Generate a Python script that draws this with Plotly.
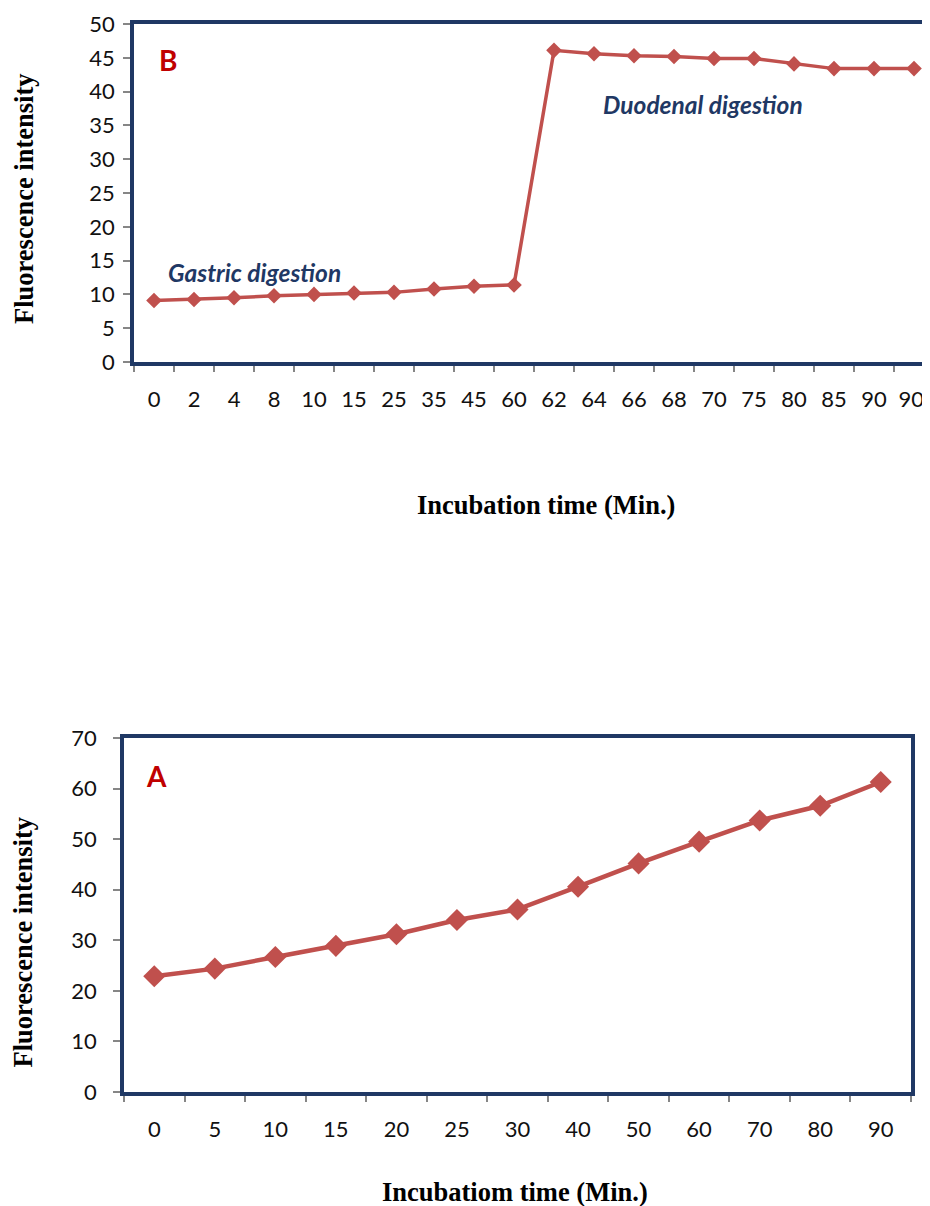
import plotly.graph_objects as go

# ---- Data: panel B (gastric + duodenal digestion) ----
time_labels_B = ["0", "2", "4", "8", "10", "15", "25", "35", "45", "60",
                 "62", "64", "66", "68", "70", "75", "80", "85", "90", "90"]
fluor_B = [9.1, 9.25, 9.5, 9.8, 10.0, 10.2, 10.3, 10.8, 11.2, 11.4,
           46.1, 45.6, 45.3, 45.2, 44.9, 44.9, 44.1, 43.4, 43.4, 43.4]

# ---- Data: panel A ----
time_labels_A = ["0", "5", "10", "15", "20", "25", "30", "40", "50", "60", "70", "80", "90"]
fluor_A = [22.9, 24.4, 26.7, 28.9, 31.2, 34.0, 36.1, 40.6, 45.2, 49.5, 53.7, 56.6, 61.3]

# The page body has an 8px default margin; size the figure to the visible area.
OFF = 8
W, H = 930 - OFF, 1206 - OFF
NAVY = "#1F3864"
RED_LINE = "#C0504D"
GRAY = "#868686"
TICK_FONT = dict(family="Lato, Carlito, Calibri, sans-serif", size=22, color="#111111")
TITLE_FONT = dict(family="Liberation Serif, Times New Roman, serif", size=26.5, color="#000000")


def unique_cats(labels):
    seen = {}
    out = []
    for lab in labels:
        k = seen.get(lab, 0)
        out.append(lab + " " * k)
        seen[lab] = k + 1
    return out


cats_B = unique_cats(time_labels_B)
cats_A = unique_cats(time_labels_A)

fig = go.Figure()
fig.add_trace(go.Scatter(
    x=cats_B, y=fluor_B, mode="lines+markers", xaxis="x", yaxis="y",
    line=dict(color=RED_LINE, width=3.5),
    marker=dict(symbol="diamond", size=12, color=RED_LINE),
    showlegend=False, cliponaxis=False,
))
fig.add_trace(go.Scatter(
    x=cats_A, y=fluor_A, mode="lines+markers", xaxis="x2", yaxis="y2",
    line=dict(color=RED_LINE, width=4.5),
    marker=dict(symbol="diamond", size=17, color=RED_LINE),
    showlegend=False, cliponaxis=False,
))


def px_x(p):
    return (p - OFF) / W


def px_y(p):
    return 1 - (p - OFF) / H


common_x = dict(type="category", showgrid=False, zeroline=False, showline=True,
                linecolor=NAVY, ticks="outside", tickcolor=GRAY, tickwidth=1.5,
                ticklen=6, tickson="boundaries", tickfont=TICK_FONT,
                ticklabelstandoff=15, automargin=False)
common_y = dict(showgrid=False, zeroline=False, showline=True, linecolor=NAVY,
                ticks="outside", tickcolor=GRAY, tickwidth=1.5, ticklen=7,
                tickfont=TICK_FONT, automargin=False)

fig.update_layout(
    width=W, height=H,
    margin=dict(l=0, r=0, t=0, b=0, pad=0, autoexpand=False),
    paper_bgcolor="white", plot_bgcolor="white",
    xaxis=dict(common_x, domain=[px_x(134), 1.0], anchor="y",
               categoryorder="array", categoryarray=cats_B,
               range=[-0.5, len(cats_B) - 0.6], mirror=True, linewidth=3.5),
    yaxis=dict(common_y, domain=[px_y(362), px_y(24)], anchor="x",
               range=[0, 50], dtick=5, linewidth=3.5, ticklabelstandoff=4),
    xaxis2=dict(common_x, domain=[px_x(124), px_x(911)], anchor="y2",
                categoryorder="array", categoryarray=cats_A,
                range=[-0.5, len(cats_A) - 0.5], mirror=True, linewidth=3.5),
    yaxis2=dict(common_y, domain=[px_y(1092), px_y(738)], anchor="x2",
                range=[0, 70], dtick=10, mirror=True, linewidth=3.5,
                ticklabelstandoff=12),
)

ann = []
# axis titles
ann.append(dict(text="<b>Incubation time (Min.)</b>", x=px_x(546), y=px_y(505),
                xref="paper", yref="paper", showarrow=False, font=TITLE_FONT,
                xanchor="center", yanchor="middle"))
ann.append(dict(text="<b>Incubatiom time (Min.)</b>", x=px_x(515), y=px_y(1192),
                xref="paper", yref="paper", showarrow=False, font=TITLE_FONT,
                xanchor="center", yanchor="middle"))
ann.append(dict(text="<b>Fluorescence intensity</b>", x=px_x(24), y=px_y(199),
                xref="paper", yref="paper", showarrow=False, font=TITLE_FONT,
                textangle=-90, xanchor="center", yanchor="middle"))
ann.append(dict(text="<b>Fluorescence intensity</b>", x=px_x(22.5), y=px_y(943),
                xref="paper", yref="paper", showarrow=False, font=TITLE_FONT,
                textangle=-90, xanchor="center", yanchor="middle"))
# panel letters
LETTER_FONT = dict(family="Lato, Carlito, sans-serif", size=28, color="#C00000")
ann.append(dict(text="<b>B</b>", x=px_x(168), y=px_y(60), xref="paper", yref="paper",
                showarrow=False, font=LETTER_FONT, xanchor="center", yanchor="middle"))
ann.append(dict(text="<b>A</b>", x=px_x(156), y=px_y(776), xref="paper", yref="paper",
                showarrow=False, font=LETTER_FONT, xanchor="center", yanchor="middle"))
# phase labels
PHASE_FONT = dict(family="Lato, Carlito, sans-serif", size=24.5, color=NAVY)
ann.append(dict(text="<b><i>Gastric digestion</i></b>", x=px_x(166), y=px_y(272),
                xref="paper", yref="paper", showarrow=False, font=PHASE_FONT,
                xanchor="left", yanchor="middle"))
ann.append(dict(text="<b><i>Duodenal digestion</i></b>", x=px_x(601), y=px_y(104),
                xref="paper", yref="paper", showarrow=False, font=PHASE_FONT,
                xanchor="left", yanchor="middle"))
fig.update_layout(annotations=ann)

fig.write_html("out.html")
